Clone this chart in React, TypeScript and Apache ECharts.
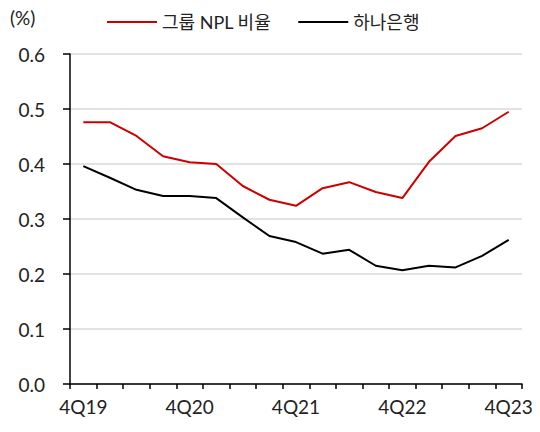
import React, { useEffect, useRef } from "react";
import * as echarts from "echarts";

const categories = [
  "4Q19", "1Q20", "2Q20", "3Q20", "4Q20", "1Q21", "2Q21", "3Q21", "4Q21",
  "1Q22", "2Q22", "3Q22", "4Q22", "1Q23", "2Q23", "3Q23", "4Q23",
];
const groupNpl = [0.476, 0.476, 0.451, 0.414, 0.403, 0.4, 0.36, 0.335, 0.324, 0.356, 0.367, 0.349, 0.338, 0.404, 0.451, 0.465, 0.495];
const hanaBank = [0.396, 0.375, 0.353, 0.342, 0.342, 0.338, 0.303, 0.269, 0.258, 0.237, 0.244, 0.215, 0.207, 0.215, 0.212, 0.233, 0.262];
const seriesNames = ["그룹 NPL 비율", "하나은행"];
const unitLabel = "(%)";

const FONT = "Lato, 'Noto Sans CJK KR', sans-serif";

export default function App() {
  const ref = useRef<HTMLDivElement>(null);
  useEffect(() => {
    if (!ref.current) return;
    const chart = echarts.init(ref.current, null, { renderer: "svg" });
    chart.setOption({
      animation: false,
      textStyle: { fontFamily: FONT },
      grid: { left: 70, right: 18, top: 54, bottom: 48 },
      graphic: [
        {
          type: "text",
          left: 10,
          top: 8,
          style: { text: unitLabel, fontSize: 19, fill: "#222", fontFamily: FONT },
        },
      ],
      legend: {
        left: 102,
        top: 8,
        icon: "rect",
        itemWidth: 50,
        itemHeight: 2,
        itemGap: 27,
        textStyle: { fontSize: 18, color: "#222", fontFamily: FONT },
        data: seriesNames,
      },
      xAxis: {
        type: "category",
        data: categories,
        boundaryGap: true,
        axisLine: { lineStyle: { color: "#000", width: 1.5 } },
        axisTick: { show: true, interval: 0, length: 5, lineStyle: { color: "#000", width: 1.5 } },
        axisLabel: { interval: 3, fontSize: 19, color: "#222", margin: 13, fontFamily: FONT },
        splitLine: { show: false },
      },
      yAxis: {
        type: "value",
        min: 0,
        max: 0.6,
        interval: 0.1,
        axisLine: { show: true, lineStyle: { color: "#000", width: 1.5 } },
        axisTick: { show: true, length: 7, lineStyle: { color: "#000", width: 1.5 } },
        axisLabel: {
          fontSize: 19,
          color: "#222",
          margin: 25,
          fontFamily: FONT,
          formatter: (v: number) => v.toFixed(1),
        },
        splitLine: { show: true, lineStyle: { color: "#d9d9d9", width: 1.5 } },
      },
      series: [
        {
          name: seriesNames[0],
          type: "line",
          data: groupNpl,
          symbol: "none",
          lineStyle: { color: "#cc0000", width: 2 },
          itemStyle: { color: "#cc0000" },
        },
        {
          name: seriesNames[1],
          type: "line",
          data: hanaBank,
          symbol: "none",
          lineStyle: { color: "#000", width: 2 },
          itemStyle: { color: "#000" },
        },
      ],
    });
    return () => chart.dispose();
  }, []);
  return <div ref={ref} style={{ width: 540, height: 432, position: "absolute", left: 0, top: 0 }} />;
}
